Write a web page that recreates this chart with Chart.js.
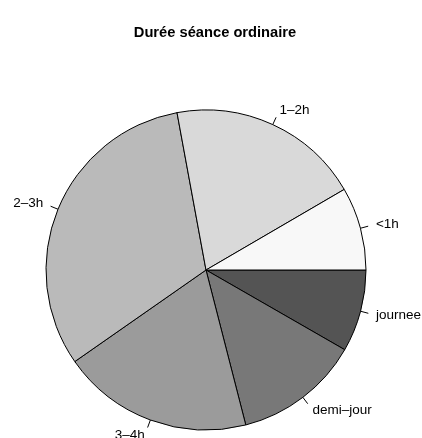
<!DOCTYPE html>
<html>
<head>
<meta charset="utf-8">
<title>Durée séance ordinaire</title>
<script src="https://cdn.jsdelivr.net/npm/chart.js@4"></script>
<style>
  html, body { margin: 0; padding: 0; background: #fff; }
  canvas { display: block; }
</style>
</head>
<body>
<canvas id="pieChart" width="422" height="438"></canvas>
<script>
// Slices in R order (counter-clockwise from 3 o'clock)
const chartTitle = 'Durée séance ordinaire';
const categories = ['<1h', '1–2h', '2–3h', '3–4h', 'demi–jour', 'journee'];
const shares = [8.4, 19.5, 31.8, 19.3, 12.7, 8.3];
const greys = ['#f8f8f8', '#d9d9d9', '#bababa', '#9b9b9b', '#787878', '#545454'];

const FONT = '"Liberation Sans", Arial, Helvetica, sans-serif';

// Chart.js goes clockwise, so feed the slices reversed and start at 3 o'clock
const revLabels = categories.slice().reverse();
const revValues = shares.slice().reverse();
const revColors = greys.slice().reverse();

// Draws R-style tick marks, slice labels and the title
const pieLabels = {
    id: 'pieLabels',
    afterDatasetsDraw(chart) {
        const ctx = chart.ctx;
        const meta = chart.getDatasetMeta(0);
        ctx.save();
        ctx.strokeStyle = '#000';
        ctx.lineWidth = 1;
        ctx.fillStyle = '#000';
        ctx.font = '13.5px ' + FONT;
        ctx.textBaseline = 'middle';
        meta.data.forEach((arc, i) => {
            const mid = (arc.startAngle + arc.endAngle) / 2;
            const r = arc.outerRadius;
            const c = Math.cos(mid), s = Math.sin(mid);
            ctx.beginPath();
            ctx.moveTo(arc.x + c * r, arc.y + s * r);
            ctx.lineTo(arc.x + c * r * 1.05, arc.y + s * r * 1.05);
            ctx.stroke();
            ctx.textAlign = c >= 0 ? 'left' : 'right';
            ctx.fillText(chart.data.labels[i], arc.x + c * r * 1.1, arc.y + s * r * 1.1);
        });
        ctx.font = 'bold 14.7px ' + FONT;
        ctx.textAlign = 'center';
        ctx.fillText(chartTitle, 215, 33);
        ctx.restore();
    }
};

new Chart(document.getElementById('pieChart'), {
    type: 'pie',
    data: {
        labels: revLabels,
        datasets: [{
            data: revValues,
            backgroundColor: revColors,
            borderColor: '#000',
            borderWidth: 1,
            radius: 160
        }]
    },
    options: {
        responsive: false,
        animation: false,
        rotation: 90,
        layout: { padding: { left: 46, right: 56, top: 110, bottom: 8 } },
        plugins: {
            legend: { display: false },
            title: { display: false },
            tooltip: { enabled: false }
        }
    },
    plugins: [pieLabels]
});
</script>
</body>
</html>
